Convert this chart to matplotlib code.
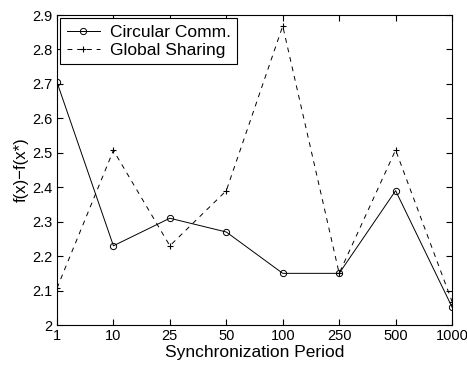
import matplotlib
matplotlib.use("Agg")
import matplotlib.pyplot as plt

periods = ["1", "10", "25", "50", "100", "250", "500", "1000"]
circular = [2.705, 2.23, 2.31, 2.27, 2.15, 2.15, 2.39, 2.052]
global_sharing = [2.107, 2.507, 2.23, 2.39, 2.868, 2.15, 2.508, 2.068]

plt.rcParams['font.family'] = ['Liberation Sans', 'DejaVu Sans']
plt.rcParams['font.size'] = 12.5

fig = plt.figure(figsize=(4.67, 3.66), dpi=100)
ax = fig.add_axes([0.122, 0.112, 0.846, 0.847])

x = list(range(len(periods)))
ax.plot(x, circular, '-', color='black', linewidth=0.7, marker='o',
        markersize=4.5, markerfacecolor='none', markeredgewidth=0.7,
        label='Circular Comm.')
ax.plot(x, global_sharing, '--', color='black', linewidth=0.7, marker='+',
        markersize=5, markeredgewidth=0.8, dashes=(5, 5),
        label='Global Sharing')

# eixos
ax.set_xlim(0, len(periods) - 1)
ax.set_ylim(2, 2.9)
ax.set_xticks(x)
ax.set_xticklabels(periods)
ax.set_yticks([2, 2.1, 2.2, 2.3, 2.4, 2.5, 2.6, 2.7, 2.8, 2.9])
ax.set_yticklabels(["2", "2.1", "2.2", "2.3", "2.4", "2.5", "2.6", "2.7", "2.8", "2.9"])
ax.tick_params(direction='in', top=True, right=True, length=4, width=0.8,
               pad=3, labelsize=10.5)
for s in ax.spines.values():
    s.set_linewidth(0.8)

ax.set_xlabel("Synchronization Period", labelpad=1)
ax.set_ylabel("f(x)\u2212f(x*)", labelpad=3, fontsize=12)

leg = ax.legend(loc='upper left', fancybox=False, edgecolor='black',
                framealpha=1, borderaxespad=0.2, handlelength=1.9,
                handletextpad=0.6, borderpad=0.35, labelspacing=0.2)
leg.get_frame().set_linewidth(0.8)

fig.savefig("out.png", dpi=100)
